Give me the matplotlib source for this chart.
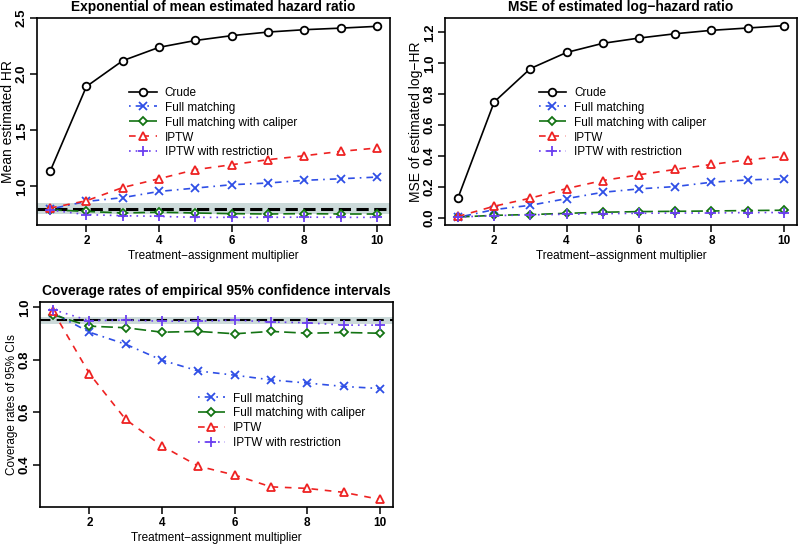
import matplotlib
matplotlib.use("Agg")
import numpy as np
from matplotlib import pyplot as plt

plt.rcParams["font.family"] = ["Liberation Sans", "DejaVu Sans"]
plt.rcParams["font.size"] = 8

MULTIPLIER = [1, 2, 3, 4, 5, 6, 7, 8, 9, 10]

# mean estimated HR (exp of mean log-HR)
HR_CRUDE = [1.134, 1.89, 2.12, 2.239, 2.30, 2.343, 2.375, 2.396, 2.41, 2.426]
HR_FM = [0.798, 0.866, 0.90, 0.955, 0.985, 1.015, 1.03, 1.054, 1.068, 1.083]
HR_FMCAL = [0.792, 0.777, 0.763, 0.770, 0.763, 0.757, 0.754, 0.757, 0.754, 0.754]
HR_IPTW = [0.807, 0.872, 0.99, 1.068, 1.149, 1.193, 1.238, 1.273, 1.312, 1.342]
HR_IPTWR = [0.79, 0.748, 0.739, 0.733, 0.724, 0.724, 0.724, 0.726, 0.724, 0.724]
HR_TRUE = 0.8
HR_BAND = (0.752, 0.848)

# MSE of log-HR
MSE_CRUDE = [0.13, 0.75, 0.966, 1.07, 1.129, 1.163, 1.191, 1.213, 1.228, 1.243]
MSE_FM = [0.004, 0.054, 0.082, 0.125, 0.166, 0.188, 0.203, 0.231, 0.246, 0.253]
MSE_FMCAL = [0.006, 0.017, 0.022, 0.030, 0.037, 0.041, 0.043, 0.045, 0.048, 0.050]
MSE_IPTW = [0.01, 0.076, 0.128, 0.19, 0.242, 0.279, 0.314, 0.346, 0.376, 0.398]
MSE_IPTWR = [0.006, 0.015, 0.020, 0.024, 0.028, 0.030, 0.032, 0.032, 0.035, 0.035]

# coverage of 95% CIs
COV_FM = [0.979, 0.905, 0.859, 0.798, 0.757, 0.741, 0.723, 0.711, 0.698, 0.69]
COV_FMCAL = [0.972, 0.928, 0.922, 0.905, 0.908, 0.899, 0.908, 0.901, 0.904, 0.901]
COV_IPTW = [0.985, 0.747, 0.572, 0.471, 0.394, 0.36, 0.315, 0.309, 0.294, 0.267]
COV_IPTWR = [0.991, 0.949, 0.951, 0.947, 0.947, 0.951, 0.944, 0.941, 0.932, 0.932]
COV_TRUE = 0.95
COV_BAND = (0.936, 0.964)

LABELS = ["Crude", "Full matching", "Full matching with caliper", "IPTW", "IPTW with restriction"]
COLORS = ["black", "#2f4fe6", "#137313", "#ee2222", "#6b3ff0"]
MARKERS = ["o", "x", "D", "^", "+"]
DASHES = [None, (1, 3, 4, 3), (7, 3), (4, 4), (1, 3)]
MSIZE = [5.5, 5.5, 4.4, 6.2, 7.5]

BAND_COLOR = "#ccdada"


def draw_series(ax, ys, idx):
    line, = ax.plot(
        MULTIPLIER, ys,
        color=COLORS[idx],
        marker=MARKERS[idx],
        markersize=MSIZE[idx],
        markerfacecolor="white" if MARKERS[idx] in "oD^" else COLORS[idx],
        markeredgecolor=COLORS[idx],
        markeredgewidth=1.3,
        linewidth=1.2,
        label=LABELS[idx],
    )
    if DASHES[idx] is not None:
        line.set_dashes(DASHES[idx])
    return line


def r_style(ax, series, title, ylabel, yticks, ylabel_size=10):
    allv = np.concatenate([np.asarray(s) for s in series])
    lo, hi = allv.min(), allv.max()
    pad = 0.04 * (hi - lo)
    ax.set_ylim(lo - pad, hi + pad)
    ax.set_xlim(1 - 0.36, 10 + 0.36)
    ax.set_xticks([2, 4, 6, 8, 10])
    ax.set_yticks(yticks)
    ax.set_yticklabels([f"{t:.1f}" for t in yticks])
    plt.setp(ax.get_yticklabels(), rotation=90, va="center")
    ax.tick_params(direction="out", length=5, width=1.1, labelsize=8.5, pad=2)
    ax.tick_params(axis="y", pad=1.5, labelsize=9.5)
    for s in ax.spines.values():
        s.set_linewidth(1.2)
    ax.set_title(title, fontsize=9.9, fontweight="bold", pad=5)
    ax.set_xlabel("Treatment\u2212assignment multiplier", fontsize=8.5, labelpad=2)
    ax.set_ylabel(ylabel, fontsize=ylabel_size, labelpad=1)
    for lab in ax.get_xticklabels() + ax.get_yticklabels():
        lab.set_fontweight("bold")


fig = plt.figure(figsize=(7.98, 5.48), dpi=100)
ax1 = fig.add_axes([0.0464, 0.5894, 0.4424, 0.3777])
ax2 = fig.add_axes([0.5576, 0.5894, 0.4410, 0.3777])
ax3 = fig.add_axes([0.0501, 0.0748, 0.4424, 0.3740])

# panel 1
ax1.axhspan(HR_BAND[0], HR_BAND[1], color=BAND_COLOR, lw=0, zorder=0)
ax1.axhline(HR_TRUE, color="black", lw=2.2, dashes=(4, 1.8), zorder=1)
hr = [HR_CRUDE, HR_FM, HR_FMCAL, HR_IPTW, HR_IPTWR]
for i, ys in enumerate(hr):
    draw_series(ax1, ys, i)
r_style(ax1, hr, "Exponential of mean estimated hazard ratio", "Mean estimated HR",
        [1.0, 1.5, 2.0, 2.5])
ax1.legend(loc="center left", bbox_to_anchor=(0.245, 0.495), frameon=False,
           fontsize=8.5, handlelength=2.3, handletextpad=0.7, labelspacing=0.25,
           borderpad=0)

# panel 2
mse = [MSE_CRUDE, MSE_FM, MSE_FMCAL, MSE_IPTW, MSE_IPTWR]
for i, ys in enumerate(mse):
    draw_series(ax2, ys, i)
r_style(ax2, mse, "MSE of estimated log\u2212hazard ratio", "MSE of estimated log\u2212HR",
        [0.0, 0.2, 0.4, 0.6, 0.8, 1.0, 1.2])
ax2.legend(loc="center left", bbox_to_anchor=(0.25, 0.495), frameon=False,
           fontsize=8.5, handlelength=2.3, handletextpad=0.7, labelspacing=0.25,
           borderpad=0)

# panel 3
ax3.axhspan(COV_BAND[0], COV_BAND[1], color=BAND_COLOR, lw=0, zorder=0)
ax3.axhline(COV_TRUE, color="black", lw=1.5, dashes=(5, 3), zorder=1)
cov = [COV_FM, COV_FMCAL, COV_IPTW, COV_IPTWR]
for i, ys in enumerate(cov):
    draw_series(ax3, ys, i + 1)
r_style(ax3, cov, "Coverage rates of empirical 95% confidence intervals",
        "Coverage rates of 95% CIs", [0.4, 0.6, 0.8, 1.0], ylabel_size=8.5)
ax3.legend(loc="center left", bbox_to_anchor=(0.43, 0.42), frameon=False,
           fontsize=8.5, handlelength=2.3, handletextpad=0.7, labelspacing=0.25,
           borderpad=0)

fig.savefig("out.png", dpi=100)
